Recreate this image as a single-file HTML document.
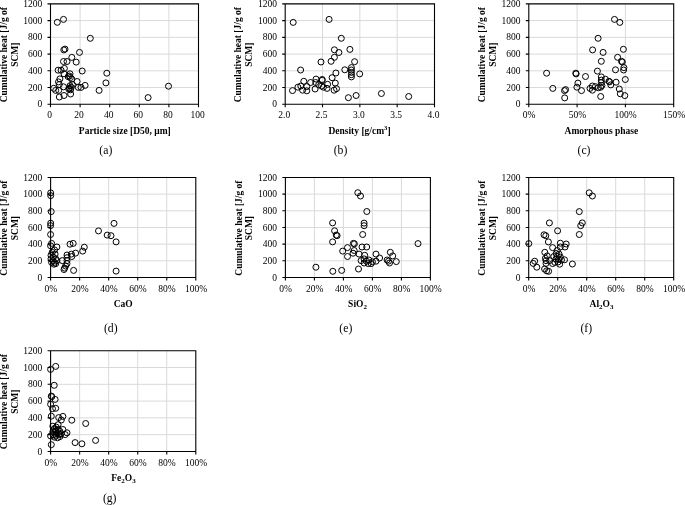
<!DOCTYPE html>
<html><head><meta charset="utf-8"><title>Cumulative heat scatter plots</title>
<style>
html,body{margin:0;padding:0;background:#fff;overflow:hidden}
svg{display:block;transform:translateZ(0);will-change:transform}
text{font-family:"Liberation Serif","DejaVu Serif",serif;fill:#000}
.tk{font-size:9.5px}
.ax{font-size:9.5px;font-weight:bold}
.cap{font-size:11.7px}
.g{stroke:#d9d9d9;stroke-width:1;fill:none}
.b{stroke:#000;stroke-width:1.1;fill:none}
.m circle{fill:none;stroke:#000;stroke-width:1.0}
</style></head><body>
<svg width="685" height="505" viewBox="0 0 685 505">
<rect width="685" height="505" fill="#fff"/>
<g id="plot-a">
<path class="g" d="M50.5 20.59H198.5M50.5 37.33H198.5M50.5 54.08H198.5M50.5 70.82H198.5M50.5 87.56H198.5M80.10 3.85V104.3M109.70 3.85V104.3M139.30 3.85V104.3M168.90 3.85V104.3"/>
<path class="b" d="M50.5 3.85H198.5V104.3H50.5ZM47.5 3.85H50.5M47.5 20.59H50.5M47.5 37.33H50.5M47.5 54.08H50.5M47.5 70.82H50.5M47.5 87.56H50.5M47.5 104.30H50.5M50.50 104.3V107.3M80.10 104.3V107.3M109.70 104.3V107.3M139.30 104.3V107.3M168.90 104.3V107.3M198.50 104.3V107.3"/>
<text class="tk" x="42.2" y="6.90" text-anchor="end">1200</text>
<text class="tk" x="42.2" y="23.64" text-anchor="end">1000</text>
<text class="tk" x="42.2" y="40.38" text-anchor="end">800</text>
<text class="tk" x="42.2" y="57.12" text-anchor="end">600</text>
<text class="tk" x="42.2" y="73.87" text-anchor="end">400</text>
<text class="tk" x="42.2" y="90.61" text-anchor="end">200</text>
<text class="tk" x="42.2" y="107.35" text-anchor="end">0</text>
<text class="tk" x="49.50" y="118.30" text-anchor="middle">0</text>
<text class="tk" x="79.10" y="118.30" text-anchor="middle">20</text>
<text class="tk" x="108.70" y="118.30" text-anchor="middle">40</text>
<text class="tk" x="138.30" y="118.30" text-anchor="middle">60</text>
<text class="tk" x="167.90" y="118.30" text-anchor="middle">80</text>
<text class="tk" x="197.50" y="118.30" text-anchor="middle">100</text>
<text class="ax" x="124.8" y="133.60" text-anchor="middle">Particle size [D50, μm]</text>
<text class="ax" font-size="9.7" transform="translate(6.6 54.7) rotate(-90)" text-anchor="middle">Cumulative heat [J/g of</text>
<text class="ax" transform="translate(17.5 54.7) rotate(-90)" text-anchor="middle">SCM]</text>
<text class="cap" x="105.8" y="153.8" text-anchor="middle">(a)</text>
<g class="m">
<circle cx="57.3" cy="22.3" r="3.0"/>
<circle cx="63.5" cy="19.4" r="3.0"/>
<circle cx="90.3" cy="38.3" r="3.0"/>
<circle cx="65.0" cy="49.1" r="3.0"/>
<circle cx="63.8" cy="49.9" r="3.0"/>
<circle cx="79.5" cy="52.4" r="3.0"/>
<circle cx="71.8" cy="57.4" r="3.0"/>
<circle cx="63.5" cy="61.5" r="3.0"/>
<circle cx="67.0" cy="61.5" r="3.0"/>
<circle cx="76.2" cy="62.1" r="3.0"/>
<circle cx="58.1" cy="70.2" r="3.0"/>
<circle cx="61.1" cy="70.2" r="3.0"/>
<circle cx="64.4" cy="68.4" r="3.0"/>
<circle cx="82.2" cy="71.0" r="3.0"/>
<circle cx="106.8" cy="73.2" r="3.0"/>
<circle cx="70.0" cy="73.8" r="3.0"/>
<circle cx="64.0" cy="73.8" r="3.0"/>
<circle cx="68.2" cy="76.7" r="3.0"/>
<circle cx="71.8" cy="79.1" r="3.0"/>
<circle cx="59.9" cy="78.9" r="3.0"/>
<circle cx="58.5" cy="81.9" r="3.0"/>
<circle cx="77.1" cy="81.5" r="3.0"/>
<circle cx="105.9" cy="82.9" r="3.0"/>
<circle cx="59.3" cy="84.5" r="3.0"/>
<circle cx="85.1" cy="85.4" r="3.0"/>
<circle cx="63.5" cy="86.8" r="3.0"/>
<circle cx="70.0" cy="85.7" r="3.0"/>
<circle cx="71.2" cy="87.4" r="3.0"/>
<circle cx="78.3" cy="87.4" r="3.0"/>
<circle cx="81.0" cy="87.4" r="3.0"/>
<circle cx="53.7" cy="88.3" r="3.0"/>
<circle cx="55.7" cy="90.4" r="3.0"/>
<circle cx="58.7" cy="90.4" r="3.0"/>
<circle cx="68.8" cy="89.2" r="3.0"/>
<circle cx="70.6" cy="89.8" r="3.0"/>
<circle cx="99.1" cy="90.4" r="3.0"/>
<circle cx="70.6" cy="94.0" r="3.0"/>
<circle cx="64.0" cy="95.5" r="3.0"/>
<circle cx="59.3" cy="97.0" r="3.0"/>
<circle cx="72.4" cy="84.5" r="3.0"/>
<circle cx="69.4" cy="88.0" r="3.0"/>
<circle cx="69.4" cy="76.0" r="3.0"/>
<circle cx="70.4" cy="77.6" r="3.0"/>
<circle cx="168.5" cy="86.2" r="3.0"/>
<circle cx="148.1" cy="97.6" r="3.0"/>
</g></g>
<g id="plot-b">
<path class="g" d="M285.2 20.59H434.5M285.2 37.33H434.5M285.2 54.08H434.5M285.2 70.82H434.5M285.2 87.56H434.5M322.52 3.85V104.3M359.85 3.85V104.3M397.18 3.85V104.3"/>
<path class="b" d="M285.2 3.85H434.5V104.3H285.2ZM282.2 3.85H285.2M282.2 20.59H285.2M282.2 37.33H285.2M282.2 54.08H285.2M282.2 70.82H285.2M282.2 87.56H285.2M282.2 104.30H285.2M285.20 104.3V107.3M322.52 104.3V107.3M359.85 104.3V107.3M397.18 104.3V107.3M434.50 104.3V107.3"/>
<text class="tk" x="276.9" y="6.90" text-anchor="end">1200</text>
<text class="tk" x="276.9" y="23.64" text-anchor="end">1000</text>
<text class="tk" x="276.9" y="40.38" text-anchor="end">800</text>
<text class="tk" x="276.9" y="57.12" text-anchor="end">600</text>
<text class="tk" x="276.9" y="73.87" text-anchor="end">400</text>
<text class="tk" x="276.9" y="90.61" text-anchor="end">200</text>
<text class="tk" x="276.9" y="107.35" text-anchor="end">0</text>
<text class="tk" x="284.20" y="118.30" text-anchor="middle">2.0</text>
<text class="tk" x="321.52" y="118.30" text-anchor="middle">2.5</text>
<text class="tk" x="358.85" y="118.30" text-anchor="middle">3.0</text>
<text class="tk" x="396.18" y="118.30" text-anchor="middle">3.5</text>
<text class="tk" x="433.50" y="118.30" text-anchor="middle">4.0</text>
<text class="ax" x="359.5" y="133.60" text-anchor="middle">Density [g/cm<tspan dy="-3.2" font-size="6.6">3</tspan><tspan dy="3.2">]</tspan></text>
<text class="ax" font-size="9.7" transform="translate(241.3 54.7) rotate(-90)" text-anchor="middle">Cumulative heat [J/g of</text>
<text class="ax" transform="translate(252.2 54.7) rotate(-90)" text-anchor="middle">SCM]</text>
<text class="cap" x="340.5" y="153.8" text-anchor="middle">(b)</text>
<g class="m">
<circle cx="334.4" cy="49.8" r="3.0"/>
<circle cx="349.9" cy="49.4" r="3.0"/>
<circle cx="338.9" cy="52.5" r="3.0"/>
<circle cx="334.4" cy="57.3" r="3.0"/>
<circle cx="331.1" cy="61.3" r="3.0"/>
<circle cx="321.0" cy="62.0" r="3.0"/>
<circle cx="354.6" cy="61.7" r="3.0"/>
<circle cx="300.6" cy="70.0" r="3.0"/>
<circle cx="344.8" cy="69.8" r="3.0"/>
<circle cx="351.4" cy="67.6" r="3.0"/>
<circle cx="351.4" cy="70.0" r="3.0"/>
<circle cx="351.4" cy="72.4" r="3.0"/>
<circle cx="351.4" cy="74.7" r="3.0"/>
<circle cx="351.4" cy="76.9" r="3.0"/>
<circle cx="359.7" cy="73.9" r="3.0"/>
<circle cx="335.9" cy="73.0" r="3.0"/>
<circle cx="332.1" cy="77.7" r="3.0"/>
<circle cx="335.3" cy="83.1" r="3.0"/>
<circle cx="336.5" cy="88.7" r="3.0"/>
<circle cx="334.1" cy="90.2" r="3.0"/>
<circle cx="356.1" cy="95.5" r="3.0"/>
<circle cx="348.4" cy="97.7" r="3.0"/>
<circle cx="292.5" cy="90.6" r="3.0"/>
<circle cx="297.9" cy="87.2" r="3.0"/>
<circle cx="300.8" cy="86.0" r="3.0"/>
<circle cx="302.6" cy="90.2" r="3.0"/>
<circle cx="303.8" cy="81.3" r="3.0"/>
<circle cx="306.8" cy="86.6" r="3.0"/>
<circle cx="306.8" cy="90.8" r="3.0"/>
<circle cx="310.6" cy="82.5" r="3.0"/>
<circle cx="316.0" cy="79.1" r="3.0"/>
<circle cx="315.7" cy="82.5" r="3.0"/>
<circle cx="315.1" cy="89.0" r="3.0"/>
<circle cx="318.7" cy="84.8" r="3.0"/>
<circle cx="322.2" cy="79.5" r="3.0"/>
<circle cx="322.2" cy="80.3" r="3.0"/>
<circle cx="321.6" cy="86.0" r="3.0"/>
<circle cx="323.4" cy="87.2" r="3.0"/>
<circle cx="327.0" cy="88.4" r="3.0"/>
<circle cx="327.6" cy="84.3" r="3.0"/>
<circle cx="293.2" cy="22.4" r="3.0"/>
<circle cx="329.1" cy="19.4" r="3.0"/>
<circle cx="341.3" cy="38.3" r="3.0"/>
<circle cx="381.4" cy="93.5" r="3.0"/>
<circle cx="408.7" cy="96.5" r="3.0"/>
</g></g>
<g id="plot-c">
<path class="g" d="M528.8 20.59H673.7M528.8 37.33H673.7M528.8 54.08H673.7M528.8 70.82H673.7M528.8 87.56H673.7M577.10 3.85V104.3M625.40 3.85V104.3"/>
<path class="b" d="M528.8 3.85H673.7V104.3H528.8ZM525.8 3.85H528.8M525.8 20.59H528.8M525.8 37.33H528.8M525.8 54.08H528.8M525.8 70.82H528.8M525.8 87.56H528.8M525.8 104.30H528.8M528.80 104.3V107.3M577.10 104.3V107.3M625.40 104.3V107.3M673.70 104.3V107.3"/>
<text class="tk" x="520.5" y="6.90" text-anchor="end">1200</text>
<text class="tk" x="520.5" y="23.64" text-anchor="end">1000</text>
<text class="tk" x="520.5" y="40.38" text-anchor="end">800</text>
<text class="tk" x="520.5" y="57.12" text-anchor="end">600</text>
<text class="tk" x="520.5" y="73.87" text-anchor="end">400</text>
<text class="tk" x="520.5" y="90.61" text-anchor="end">200</text>
<text class="tk" x="520.5" y="107.35" text-anchor="end">0</text>
<text class="tk" x="529.10" y="118.30" text-anchor="middle">0%</text>
<text class="tk" x="577.40" y="118.30" text-anchor="middle">50%</text>
<text class="tk" x="625.70" y="118.30" text-anchor="middle">100%</text>
<text class="tk" x="674.00" y="118.30" text-anchor="middle">150%</text>
<text class="ax" x="601.4" y="133.60" text-anchor="middle">Amorphous phase</text>
<text class="ax" font-size="9.7" transform="translate(484.9 54.7) rotate(-90)" text-anchor="middle">Cumulative heat [J/g of</text>
<text class="ax" transform="translate(495.8 54.7) rotate(-90)" text-anchor="middle">SCM]</text>
<text class="cap" x="584" y="153.8" text-anchor="middle">(c)</text>
<g class="m">
<circle cx="614.5" cy="19.4" r="3.0"/>
<circle cx="619.8" cy="22.4" r="3.0"/>
<circle cx="598.1" cy="38.3" r="3.0"/>
<circle cx="592.6" cy="49.9" r="3.0"/>
<circle cx="603.1" cy="52.4" r="3.0"/>
<circle cx="623.4" cy="49.3" r="3.0"/>
<circle cx="617.6" cy="57.3" r="3.0"/>
<circle cx="601.3" cy="61.3" r="3.0"/>
<circle cx="621.5" cy="61.3" r="3.0"/>
<circle cx="622.3" cy="62.0" r="3.0"/>
<circle cx="623.9" cy="67.6" r="3.0"/>
<circle cx="623.6" cy="70.0" r="3.0"/>
<circle cx="615.5" cy="69.8" r="3.0"/>
<circle cx="597.4" cy="71.1" r="3.0"/>
<circle cx="546.6" cy="73.2" r="3.0"/>
<circle cx="575.8" cy="73.2" r="3.0"/>
<circle cx="576.1" cy="73.9" r="3.0"/>
<circle cx="585.5" cy="76.5" r="3.0"/>
<circle cx="601.3" cy="76.9" r="3.0"/>
<circle cx="601.3" cy="80.1" r="3.0"/>
<circle cx="601.3" cy="82.5" r="3.0"/>
<circle cx="605.4" cy="79.2" r="3.0"/>
<circle cx="609.0" cy="81.3" r="3.0"/>
<circle cx="609.6" cy="81.9" r="3.0"/>
<circle cx="610.8" cy="84.9" r="3.0"/>
<circle cx="616.1" cy="82.2" r="3.0"/>
<circle cx="625.3" cy="79.5" r="3.0"/>
<circle cx="577.9" cy="83.1" r="3.0"/>
<circle cx="576.9" cy="87.2" r="3.0"/>
<circle cx="581.5" cy="90.6" r="3.0"/>
<circle cx="552.8" cy="88.4" r="3.0"/>
<circle cx="564.5" cy="90.6" r="3.0"/>
<circle cx="565.6" cy="89.6" r="3.0"/>
<circle cx="564.7" cy="97.9" r="3.0"/>
<circle cx="590.0" cy="88.4" r="3.0"/>
<circle cx="592.4" cy="86.0" r="3.0"/>
<circle cx="592.4" cy="90.2" r="3.0"/>
<circle cx="595.4" cy="86.6" r="3.0"/>
<circle cx="598.3" cy="87.8" r="3.0"/>
<circle cx="600.7" cy="87.2" r="3.0"/>
<circle cx="601.9" cy="85.5" r="3.0"/>
<circle cx="600.7" cy="96.5" r="3.0"/>
<circle cx="619.3" cy="89.0" r="3.0"/>
<circle cx="620.3" cy="93.8" r="3.0"/>
<circle cx="624.8" cy="95.6" r="3.0"/>
</g></g>
<g id="plot-d">
<path class="g" d="M50.6 194.12H195.8M50.6 210.80H195.8M50.6 227.47H195.8M50.6 244.15H195.8M50.6 260.82H195.8M79.64 177.45V277.5M108.68 177.45V277.5M137.72 177.45V277.5M166.76 177.45V277.5"/>
<path class="b" d="M50.6 177.45H195.8V277.5H50.6ZM47.6 177.45H50.6M47.6 194.12H50.6M47.6 210.80H50.6M47.6 227.47H50.6M47.6 244.15H50.6M47.6 260.82H50.6M47.6 277.50H50.6M50.60 277.5V280.5M79.64 277.5V280.5M108.68 277.5V280.5M137.72 277.5V280.5M166.76 277.5V280.5M195.80 277.5V280.5"/>
<text class="tk" x="42.3" y="180.50" text-anchor="end">1200</text>
<text class="tk" x="42.3" y="197.18" text-anchor="end">1000</text>
<text class="tk" x="42.3" y="213.85" text-anchor="end">800</text>
<text class="tk" x="42.3" y="230.53" text-anchor="end">600</text>
<text class="tk" x="42.3" y="247.20" text-anchor="end">400</text>
<text class="tk" x="42.3" y="263.88" text-anchor="end">200</text>
<text class="tk" x="42.3" y="280.55" text-anchor="end">0</text>
<text class="tk" x="50.90" y="292.30" text-anchor="middle">0%</text>
<text class="tk" x="79.94" y="292.30" text-anchor="middle">20%</text>
<text class="tk" x="108.98" y="292.30" text-anchor="middle">40%</text>
<text class="tk" x="138.02" y="292.30" text-anchor="middle">60%</text>
<text class="tk" x="167.06" y="292.30" text-anchor="middle">80%</text>
<text class="tk" x="196.10" y="292.30" text-anchor="middle">100%</text>
<text class="ax" x="123.2" y="307.20" text-anchor="middle">CaO</text>
<text class="ax" font-size="9.7" transform="translate(6.7 228.1) rotate(-90)" text-anchor="middle">Cumulative heat [J/g of</text>
<text class="ax" transform="translate(17.6 228.1) rotate(-90)" text-anchor="middle">SCM]</text>
<text class="cap" x="110.8" y="331.9" text-anchor="middle">(d)</text>
<g class="m">
<circle cx="114.0" cy="223.4" r="3.0"/>
<circle cx="98.5" cy="230.9" r="3.0"/>
<circle cx="107.2" cy="235.1" r="3.0"/>
<circle cx="111.0" cy="235.7" r="3.0"/>
<circle cx="116.1" cy="241.9" r="3.0"/>
<circle cx="116.1" cy="271.1" r="3.0"/>
<circle cx="73.6" cy="270.4" r="3.0"/>
<circle cx="70.0" cy="244.2" r="3.0"/>
<circle cx="73.2" cy="243.4" r="3.0"/>
<circle cx="84.3" cy="247.2" r="3.0"/>
<circle cx="82.7" cy="251.1" r="3.0"/>
<circle cx="75.6" cy="253.1" r="3.0"/>
<circle cx="71.4" cy="254.1" r="3.0"/>
<circle cx="71.8" cy="256.5" r="3.0"/>
<circle cx="67.0" cy="255.0" r="3.0"/>
<circle cx="67.0" cy="257.7" r="3.0"/>
<circle cx="67.0" cy="260.6" r="3.0"/>
<circle cx="67.0" cy="263.6" r="3.0"/>
<circle cx="65.6" cy="266.0" r="3.0"/>
<circle cx="64.6" cy="268.1" r="3.0"/>
<circle cx="64.0" cy="269.5" r="3.0"/>
<circle cx="62.3" cy="260.6" r="3.0"/>
<circle cx="50.6" cy="225.6" r="3.0"/>
<circle cx="50.6" cy="234.5" r="3.0"/>
<circle cx="51.6" cy="243.4" r="3.0"/>
<circle cx="56.9" cy="247.0" r="3.0"/>
<circle cx="50.6" cy="245.8" r="3.0"/>
<circle cx="54.5" cy="249.9" r="3.0"/>
<circle cx="52.2" cy="252.3" r="3.0"/>
<circle cx="55.1" cy="254.1" r="3.0"/>
<circle cx="51.0" cy="255.3" r="3.0"/>
<circle cx="53.3" cy="257.1" r="3.0"/>
<circle cx="55.7" cy="258.8" r="3.0"/>
<circle cx="51.0" cy="258.8" r="3.0"/>
<circle cx="52.8" cy="260.6" r="3.0"/>
<circle cx="56.9" cy="260.6" r="3.0"/>
<circle cx="51.6" cy="262.4" r="3.0"/>
<circle cx="54.5" cy="262.4" r="3.0"/>
<circle cx="53.9" cy="264.2" r="3.0"/>
<circle cx="55.7" cy="263.6" r="3.0"/>
<circle cx="50.7" cy="192.9" r="3.0"/>
<circle cx="50.7" cy="195.6" r="3.0"/>
<circle cx="51.2" cy="211.6" r="3.0"/>
<circle cx="50.7" cy="223.2" r="3.0"/>
</g></g>
<g id="plot-e">
<path class="g" d="M285.4 194.12H430.4M285.4 210.80H430.4M285.4 227.47H430.4M285.4 244.15H430.4M285.4 260.82H430.4M314.40 177.45V277.5M343.40 177.45V277.5M372.40 177.45V277.5M401.40 177.45V277.5"/>
<path class="b" d="M285.4 177.45H430.4V277.5H285.4ZM282.4 177.45H285.4M282.4 194.12H285.4M282.4 210.80H285.4M282.4 227.47H285.4M282.4 244.15H285.4M282.4 260.82H285.4M282.4 277.50H285.4M285.40 277.5V280.5M314.40 277.5V280.5M343.40 277.5V280.5M372.40 277.5V280.5M401.40 277.5V280.5M430.40 277.5V280.5"/>
<text class="tk" x="277.1" y="180.50" text-anchor="end">1200</text>
<text class="tk" x="277.1" y="197.18" text-anchor="end">1000</text>
<text class="tk" x="277.1" y="213.85" text-anchor="end">800</text>
<text class="tk" x="277.1" y="230.53" text-anchor="end">600</text>
<text class="tk" x="277.1" y="247.20" text-anchor="end">400</text>
<text class="tk" x="277.1" y="263.88" text-anchor="end">200</text>
<text class="tk" x="277.1" y="280.55" text-anchor="end">0</text>
<text class="tk" x="285.70" y="292.30" text-anchor="middle">0%</text>
<text class="tk" x="314.70" y="292.30" text-anchor="middle">20%</text>
<text class="tk" x="343.70" y="292.30" text-anchor="middle">40%</text>
<text class="tk" x="372.70" y="292.30" text-anchor="middle">60%</text>
<text class="tk" x="401.70" y="292.30" text-anchor="middle">80%</text>
<text class="tk" x="430.70" y="292.30" text-anchor="middle">100%</text>
<text class="ax" x="357.5" y="307.20" text-anchor="middle">SiO<tspan dy="2" font-size="7">2</tspan></text>
<text class="ax" font-size="9.7" transform="translate(241.5 228.1) rotate(-90)" text-anchor="middle">Cumulative heat [J/g of</text>
<text class="ax" transform="translate(252.4 228.1) rotate(-90)" text-anchor="middle">SCM]</text>
<text class="cap" x="345.8" y="331.9" text-anchor="middle">(e)</text>
<g class="m">
<circle cx="357.8" cy="192.7" r="3.0"/>
<circle cx="360.5" cy="196.0" r="3.0"/>
<circle cx="366.8" cy="211.5" r="3.0"/>
<circle cx="332.6" cy="222.9" r="3.0"/>
<circle cx="364.1" cy="223.1" r="3.0"/>
<circle cx="364.1" cy="225.7" r="3.0"/>
<circle cx="334.6" cy="230.8" r="3.0"/>
<circle cx="336.2" cy="235.1" r="3.0"/>
<circle cx="337.1" cy="235.7" r="3.0"/>
<circle cx="362.7" cy="234.5" r="3.0"/>
<circle cx="332.6" cy="241.9" r="3.0"/>
<circle cx="353.4" cy="243.4" r="3.0"/>
<circle cx="354.4" cy="243.8" r="3.0"/>
<circle cx="362.0" cy="247.0" r="3.0"/>
<circle cx="366.7" cy="247.0" r="3.0"/>
<circle cx="347.5" cy="247.6" r="3.0"/>
<circle cx="342.7" cy="251.1" r="3.0"/>
<circle cx="354.2" cy="250.5" r="3.0"/>
<circle cx="353.0" cy="253.2" r="3.0"/>
<circle cx="359.1" cy="254.1" r="3.0"/>
<circle cx="347.5" cy="256.5" r="3.0"/>
<circle cx="364.7" cy="255.3" r="3.0"/>
<circle cx="376.0" cy="254.1" r="3.0"/>
<circle cx="379.6" cy="258.0" r="3.0"/>
<circle cx="376.0" cy="261.2" r="3.0"/>
<circle cx="361.1" cy="260.6" r="3.0"/>
<circle cx="364.1" cy="258.9" r="3.0"/>
<circle cx="364.1" cy="263.0" r="3.0"/>
<circle cx="366.5" cy="261.2" r="3.0"/>
<circle cx="368.9" cy="260.0" r="3.0"/>
<circle cx="368.3" cy="263.6" r="3.0"/>
<circle cx="371.2" cy="263.6" r="3.0"/>
<circle cx="372.4" cy="261.8" r="3.0"/>
<circle cx="358.5" cy="269.0" r="3.0"/>
<circle cx="341.7" cy="270.4" r="3.0"/>
<circle cx="332.8" cy="271.3" r="3.0"/>
<circle cx="315.9" cy="267.2" r="3.0"/>
<circle cx="418.0" cy="243.6" r="3.0"/>
<circle cx="390.3" cy="252.3" r="3.0"/>
<circle cx="392.7" cy="255.9" r="3.0"/>
<circle cx="387.1" cy="260.0" r="3.0"/>
<circle cx="388.5" cy="261.2" r="3.0"/>
<circle cx="389.5" cy="263.0" r="3.0"/>
<circle cx="396.3" cy="261.6" r="3.0"/>
</g></g>
<g id="plot-f">
<path class="g" d="M528.7 194.12H673.7M528.7 210.80H673.7M528.7 227.47H673.7M528.7 244.15H673.7M528.7 260.82H673.7M557.70 177.45V277.5M586.70 177.45V277.5M615.70 177.45V277.5M644.70 177.45V277.5"/>
<path class="b" d="M528.7 177.45H673.7V277.5H528.7ZM525.7 177.45H528.7M525.7 194.12H528.7M525.7 210.80H528.7M525.7 227.47H528.7M525.7 244.15H528.7M525.7 260.82H528.7M525.7 277.50H528.7M528.70 277.5V280.5M557.70 277.5V280.5M586.70 277.5V280.5M615.70 277.5V280.5M644.70 277.5V280.5M673.70 277.5V280.5"/>
<text class="tk" x="520.4" y="180.50" text-anchor="end">1200</text>
<text class="tk" x="520.4" y="197.18" text-anchor="end">1000</text>
<text class="tk" x="520.4" y="213.85" text-anchor="end">800</text>
<text class="tk" x="520.4" y="230.53" text-anchor="end">600</text>
<text class="tk" x="520.4" y="247.20" text-anchor="end">400</text>
<text class="tk" x="520.4" y="263.88" text-anchor="end">200</text>
<text class="tk" x="520.4" y="280.55" text-anchor="end">0</text>
<text class="tk" x="529.00" y="292.30" text-anchor="middle">0%</text>
<text class="tk" x="558.00" y="292.30" text-anchor="middle">20%</text>
<text class="tk" x="587.00" y="292.30" text-anchor="middle">40%</text>
<text class="tk" x="616.00" y="292.30" text-anchor="middle">60%</text>
<text class="tk" x="645.00" y="292.30" text-anchor="middle">80%</text>
<text class="tk" x="674.00" y="292.30" text-anchor="middle">100%</text>
<text class="ax" x="601.5" y="307.20" text-anchor="middle">Al<tspan dy="2" font-size="7">2</tspan><tspan dy="-2">O</tspan><tspan dy="2" font-size="7">3</tspan></text>
<text class="ax" font-size="9.7" transform="translate(484.8 228.1) rotate(-90)" text-anchor="middle">Cumulative heat [J/g of</text>
<text class="ax" transform="translate(495.7 228.1) rotate(-90)" text-anchor="middle">SCM]</text>
<text class="cap" x="586.3" y="331.9" text-anchor="middle">(f)</text>
<g class="m">
<circle cx="589.2" cy="192.8" r="3.0"/>
<circle cx="592.4" cy="196.0" r="3.0"/>
<circle cx="579.3" cy="211.6" r="3.0"/>
<circle cx="549.4" cy="222.9" r="3.0"/>
<circle cx="582.3" cy="222.9" r="3.0"/>
<circle cx="580.7" cy="225.7" r="3.0"/>
<circle cx="557.6" cy="230.8" r="3.0"/>
<circle cx="544.0" cy="234.8" r="3.0"/>
<circle cx="545.8" cy="235.7" r="3.0"/>
<circle cx="579.3" cy="234.5" r="3.0"/>
<circle cx="548.4" cy="241.9" r="3.0"/>
<circle cx="528.8" cy="243.6" r="3.0"/>
<circle cx="560.3" cy="243.2" r="3.0"/>
<circle cx="566.2" cy="244.0" r="3.0"/>
<circle cx="565.0" cy="247.0" r="3.0"/>
<circle cx="552.6" cy="247.6" r="3.0"/>
<circle cx="560.3" cy="247.0" r="3.0"/>
<circle cx="557.3" cy="250.5" r="3.0"/>
<circle cx="544.8" cy="252.3" r="3.0"/>
<circle cx="556.1" cy="253.5" r="3.0"/>
<circle cx="559.1" cy="254.1" r="3.0"/>
<circle cx="547.2" cy="255.9" r="3.0"/>
<circle cx="553.8" cy="256.5" r="3.0"/>
<circle cx="557.3" cy="256.5" r="3.0"/>
<circle cx="560.3" cy="257.1" r="3.0"/>
<circle cx="545.4" cy="258.3" r="3.0"/>
<circle cx="558.5" cy="259.5" r="3.0"/>
<circle cx="561.5" cy="260.0" r="3.0"/>
<circle cx="564.5" cy="259.8" r="3.0"/>
<circle cx="546.0" cy="260.6" r="3.0"/>
<circle cx="549.6" cy="260.6" r="3.0"/>
<circle cx="546.0" cy="263.4" r="3.0"/>
<circle cx="552.6" cy="263.6" r="3.0"/>
<circle cx="554.9" cy="262.4" r="3.0"/>
<circle cx="559.7" cy="264.2" r="3.0"/>
<circle cx="572.4" cy="264.0" r="3.0"/>
<circle cx="534.7" cy="261.2" r="3.0"/>
<circle cx="533.2" cy="263.4" r="3.0"/>
<circle cx="536.8" cy="267.2" r="3.0"/>
<circle cx="544.6" cy="269.0" r="3.0"/>
<circle cx="546.6" cy="270.8" r="3.0"/>
<circle cx="548.6" cy="271.3" r="3.0"/>
<circle cx="556.0" cy="259.0" r="3.0"/>
<circle cx="558.0" cy="262.0" r="3.0"/>
</g></g>
<g id="plot-g">
<path class="g" d="M50.6 367.53H195.8M50.6 384.32H195.8M50.6 401.10H195.8M50.6 417.88H195.8M50.6 434.67H195.8M79.64 350.75V451.45M108.68 350.75V451.45M137.72 350.75V451.45M166.76 350.75V451.45"/>
<path class="b" d="M50.6 350.75H195.8V451.45H50.6ZM47.6 350.75H50.6M47.6 367.53H50.6M47.6 384.32H50.6M47.6 401.10H50.6M47.6 417.88H50.6M47.6 434.67H50.6M47.6 451.45H50.6M50.60 451.45V454.45M79.64 451.45V454.45M108.68 451.45V454.45M137.72 451.45V454.45M166.76 451.45V454.45M195.80 451.45V454.45"/>
<text class="tk" x="42.3" y="353.80" text-anchor="end">1200</text>
<text class="tk" x="42.3" y="370.58" text-anchor="end">1000</text>
<text class="tk" x="42.3" y="387.37" text-anchor="end">800</text>
<text class="tk" x="42.3" y="404.15" text-anchor="end">600</text>
<text class="tk" x="42.3" y="420.93" text-anchor="end">400</text>
<text class="tk" x="42.3" y="437.72" text-anchor="end">200</text>
<text class="tk" x="42.3" y="454.50" text-anchor="end">0</text>
<text class="tk" x="50.90" y="465.90" text-anchor="middle">0%</text>
<text class="tk" x="79.94" y="465.90" text-anchor="middle">20%</text>
<text class="tk" x="108.98" y="465.90" text-anchor="middle">40%</text>
<text class="tk" x="138.02" y="465.90" text-anchor="middle">60%</text>
<text class="tk" x="167.06" y="465.90" text-anchor="middle">80%</text>
<text class="tk" x="196.10" y="465.90" text-anchor="middle">100%</text>
<text class="ax" x="123.5" y="480.70" text-anchor="middle">Fe<tspan dy="2" font-size="7">2</tspan><tspan dy="-2">O</tspan><tspan dy="2" font-size="7">3</tspan></text>
<text class="ax" font-size="9.7" transform="translate(6.7 401.7) rotate(-90)" text-anchor="middle">Cumulative heat [J/g of</text>
<text class="ax" transform="translate(17.6 401.7) rotate(-90)" text-anchor="middle">SCM]</text>
<text class="cap" x="109.7" y="501.6" text-anchor="middle">(g)</text>
<g class="m">
<circle cx="55.7" cy="366.4" r="3.0"/>
<circle cx="50.6" cy="369.4" r="3.0"/>
<circle cx="54.2" cy="385.3" r="3.0"/>
<circle cx="51.3" cy="396.1" r="3.0"/>
<circle cx="51.8" cy="396.7" r="3.0"/>
<circle cx="55.1" cy="399.4" r="3.0"/>
<circle cx="50.6" cy="404.3" r="3.0"/>
<circle cx="55.7" cy="408.3" r="3.0"/>
<circle cx="52.5" cy="408.7" r="3.0"/>
<circle cx="51.3" cy="416.2" r="3.0"/>
<circle cx="58.7" cy="417.6" r="3.0"/>
<circle cx="62.9" cy="416.4" r="3.0"/>
<circle cx="61.3" cy="420.0" r="3.0"/>
<circle cx="71.8" cy="420.2" r="3.0"/>
<circle cx="85.7" cy="423.5" r="3.0"/>
<circle cx="52.8" cy="426.2" r="3.0"/>
<circle cx="58.1" cy="424.7" r="3.0"/>
<circle cx="56.3" cy="427.1" r="3.0"/>
<circle cx="53.9" cy="429.5" r="3.0"/>
<circle cx="58.1" cy="429.5" r="3.0"/>
<circle cx="62.9" cy="429.5" r="3.0"/>
<circle cx="52.8" cy="431.9" r="3.0"/>
<circle cx="56.3" cy="431.9" r="3.0"/>
<circle cx="59.9" cy="431.3" r="3.0"/>
<circle cx="67.0" cy="432.8" r="3.0"/>
<circle cx="65.2" cy="434.6" r="3.0"/>
<circle cx="53.4" cy="434.8" r="3.0"/>
<circle cx="55.7" cy="435.4" r="3.0"/>
<circle cx="58.7" cy="434.2" r="3.0"/>
<circle cx="61.1" cy="433.6" r="3.0"/>
<circle cx="54.5" cy="437.2" r="3.0"/>
<circle cx="57.5" cy="437.8" r="3.0"/>
<circle cx="59.9" cy="436.6" r="3.0"/>
<circle cx="50.6" cy="436.0" r="3.0"/>
<circle cx="95.6" cy="440.4" r="3.0"/>
<circle cx="75.1" cy="442.6" r="3.0"/>
<circle cx="81.9" cy="443.8" r="3.0"/>
<circle cx="51.3" cy="444.7" r="3.0"/>
<circle cx="54.5" cy="428.5" r="3.0"/>
<circle cx="57.0" cy="433.5" r="3.0"/>
<circle cx="60.0" cy="434.5" r="3.0"/>
<circle cx="55.5" cy="431.0" r="3.0"/>
</g></g>
</svg></body></html>
